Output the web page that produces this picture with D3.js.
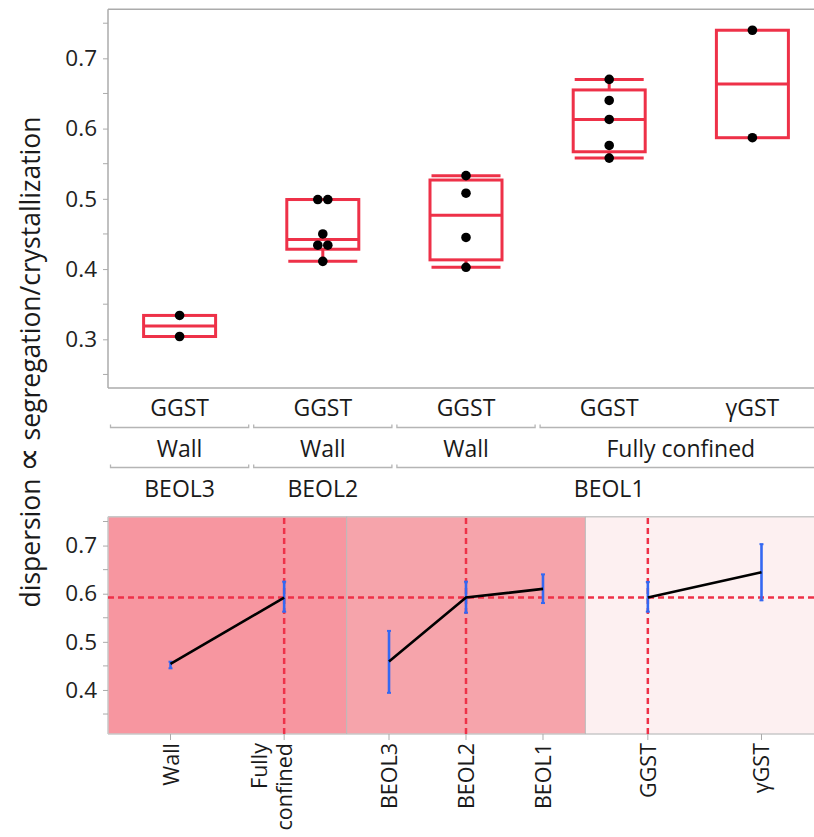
<!DOCTYPE html>
<html><head><meta charset="utf-8">
<script src="https://cdn.jsdelivr.net/npm/d3@7"></script>
<style>
html,body{margin:0;padding:0;background:#fff;}
svg{display:block;font-family:"Open Sans","Noto Sans",sans-serif;}
</style></head>
<body>
<svg id="chart" width="814" height="837"></svg>
<script>
// ---------- DATA ----------
const boxMaterial = ["GGST","GGST","GGST","GGST","γGST"];
const boxConfinement = ["Wall","Wall","Wall","Fully confined","Fully confined"];
const boxBeol = ["BEOL3","BEOL2","BEOL1","BEOL1","BEOL1"];
const boxPoints = [
  [0.334, 0.304],
  [0.499, 0.499, 0.450, 0.434, 0.434, 0.411],
  [0.533, 0.508, 0.445, 0.4025],
  [0.670, 0.640, 0.613, 0.576, 0.558],
  [0.740, 0.587]
];
const topTicks = [0.3, 0.4, 0.5, 0.6, 0.7];
const topMinor = [0.25,0.35,0.45,0.55,0.65,0.75];

const confLevels = ["Wall","Fully confined"];
const confMean = [0.454, 0.592];
const confLo = [0.445, 0.5626];
const confHi = [0.4587, 0.625];

const beolLevels = ["BEOL3","BEOL2","BEOL1"];
const beolMean = [0.459, 0.592, 0.610];
const beolLo = [0.394, 0.5605, 0.5806];
const beolHi = [0.5227, 0.625, 0.6402];

const matLevels = ["GGST","γGST"];
const matMean = [0.592, 0.6445];
const matLo = [0.5626, 0.5862];
const matHi = [0.6245, 0.703];

const profRef = 0.592;
const profCurrent = ["Fully confined","BEOL2","GGST"];
const botTicks = [0.4, 0.5, 0.6, 0.7];
const botMinor = [0.35,0.45,0.55,0.65,0.75];

const yTitleParts = ["dispersion ", "∝", " segregation/crystallization"];

// ---------- STYLE ----------
const RED = "#EE3148", BLUE = "#3468F2", GRID = "#ABABAB";
const panelFill = ["#F796A0","#F6A4AB","#FDF0F1"];

const svg = d3.select("#chart");
const L = 108, PW = 716;

// ---------- TOP: box plot ----------
const yT = d3.scaleLinear().domain([0.2307, 0.7698]).range([388, 9.3]);
const xT = d3.scaleBand().domain(d3.range(boxPoints.length)).range([L, L+PW]);
const topG = svg.append("g");

// frame
topG.append("line").attr("x1",L).attr("x2",L+PW).attr("y1",9.3).attr("y2",9.3).attr("stroke",GRID).attr("stroke-width",1.5);
topG.append("line").attr("x1",L).attr("x2",L+PW).attr("y1",388).attr("y2",388).attr("stroke",GRID).attr("stroke-width",1.5);
topG.append("line").attr("x1",L).attr("x2",L).attr("y1",9.3).attr("y2",388).attr("stroke",GRID).attr("stroke-width",1.5);

// y axis
const axT = topG.append("g").attr("transform",`translate(${L},0)`)
  .call(d3.axisLeft(yT).tickValues(topTicks).tickSize(5).tickPadding(6).tickFormat(d3.format(".1f")));
axT.select(".domain").remove();
axT.selectAll("line").attr("stroke",GRID);
axT.selectAll("text").attr("font-size",22.5).attr("fill","#222").attr("font-family","Open Sans");
topG.append("g").selectAll("line").data(topMinor).join("line")
  .attr("x1",L-5).attr("x2",L).attr("y1",d=>yT(d)).attr("y2",d=>yT(d)).attr("stroke",GRID);

// quantile (p(n+1) method)
function q6(arr, p){
  const s = arr.slice().sort((a,b)=>a-b), n=s.length;
  const h = p*(n+1);
  if (h<=1) return s[0];
  if (h>=n) return s[n-1];
  const lo = Math.floor(h);
  return s[lo-1] + (h-lo)*(s[lo]-s[lo-1]);
}
const bw = 72, cw = 69;
boxPoints.forEach((pts,i)=>{
  const cx = xT(i) + xT.bandwidth()/2;
  const q1=q6(pts,0.25), med=q6(pts,0.5), q3=q6(pts,0.75);
  const iqr=q3-q1;
  const wLo = d3.min(pts.filter(v=>v>=q1-1.5*iqr));
  const wHi = d3.max(pts.filter(v=>v<=q3+1.5*iqr));
  const g = topG.append("g");
  if (pts.length>2){
    g.append("line").attr("x1",cx).attr("x2",cx).attr("y1",yT(q3)).attr("y2",yT(wHi)).attr("stroke",RED).attr("stroke-width",3);
    g.append("line").attr("x1",cx).attr("x2",cx).attr("y1",yT(q1)).attr("y2",yT(wLo)).attr("stroke",RED).attr("stroke-width",3);
    g.append("line").attr("x1",cx-cw/2).attr("x2",cx+cw/2).attr("y1",yT(wHi)).attr("y2",yT(wHi)).attr("stroke",RED).attr("stroke-width",3);
    g.append("line").attr("x1",cx-cw/2).attr("x2",cx+cw/2).attr("y1",yT(wLo)).attr("y2",yT(wLo)).attr("stroke",RED).attr("stroke-width",3);
  }
  g.append("rect").attr("x",cx-bw/2).attr("width",bw).attr("y",yT(q3)).attr("height",yT(q1)-yT(q3))
    .attr("fill","none").attr("stroke",RED).attr("stroke-width",3);
  g.append("line").attr("x1",cx-bw/2).attr("x2",cx+bw/2).attr("y1",yT(med)).attr("y2",yT(med)).attr("stroke",RED).attr("stroke-width",3);
  // points with tie spreading
  const counts = d3.rollup(pts, v=>v.length, d=>d);
  const seen = new Map();
  pts.forEach(v=>{
    const n = counts.get(v), k = seen.get(v)||0; seen.set(v,k+1);
    const dx = (k-(n-1)/2)*10;
    g.append("circle").attr("cx",cx+dx).attr("cy",yT(v)).attr("r",4.8).attr("fill","#000");
  });
});

// nested categorical x labels
const rowY = [407, 448, 488], sepY = [427.5, 467.5];
const lab = topG.append("g").attr("font-size",23).attr("fill","#1a1a1a").attr("text-anchor","middle").attr("dominant-baseline","central");
boxMaterial.forEach((m,i)=>{
  lab.append("text").attr("x",xT(i)+xT.bandwidth()/2).attr("y",rowY[0]).text(m);
});
function groups(keys){
  const out=[]; keys.forEach((k,i)=>{
    if(out.length && out[out.length-1].key===k) out[out.length-1].end=i;
    else out.push({key:k,start:i,end:i});
  }); return out;
}
const g1 = groups(boxBeol.map((b,i)=>b+"|"+boxConfinement[i])).map(g=>({...g,label:g.key.split("|")[1]}));
const g2 = groups(boxBeol).map(g=>({...g,label:g.key}));
[g1,g2].forEach((gs,r)=>{
  gs.forEach(g=>{
    const x0 = xT(g.start)+2.5, x1 = xT(g.end)+xT.bandwidth()-2.5;
    topG.append("path").attr("d",`M${x0},${sepY[r]-3}V${sepY[r]}H${x1}V${sepY[r]-3}`)
      .attr("fill","none").attr("stroke","#B5B5B5").attr("stroke-width",1.3);
    lab.append("text").attr("x",(xT(g.start)+xT(g.end)+xT.bandwidth())/2).attr("y",rowY[r+1]).text(g.label);
  });
});

// ---------- BOTTOM: profiler ----------
const yB = d3.scaleLinear().domain([0.3085, 0.760]).range([734, 516.7]);
const bot = svg.append("g");
const panelW = PW/3;
const panels = [
  {levels:confLevels, mean:confMean, lo:confLo, hi:confHi},
  {levels:beolLevels, mean:beolMean, lo:beolLo, hi:beolHi},
  {levels:matLevels, mean:matMean, lo:matLo, hi:matHi}
];
panels.forEach((p,i)=>{
  const x0 = L + i*panelW;
  bot.append("rect").attr("x",x0).attr("y",516.7).attr("width",panelW).attr("height",734-516.7).attr("fill",panelFill[i]);
});
// frame
bot.append("line").attr("x1",L).attr("x2",L+PW).attr("y1",516.7).attr("y2",516.7).attr("stroke","#C8C8C8").attr("stroke-width",1.5);
bot.append("line").attr("x1",L).attr("x2",L+PW).attr("y1",734).attr("y2",734).attr("stroke","#C8C8C8").attr("stroke-width",1.5);
bot.append("line").attr("x1",L).attr("x2",L).attr("y1",516.7).attr("y2",734).attr("stroke","#C8C8C8").attr("stroke-width",1.5);
[1,2].forEach(i=>{
  bot.append("line").attr("x1",L+i*panelW).attr("x2",L+i*panelW).attr("y1",516.7).attr("y2",734).attr("stroke","#B8B8B8").attr("stroke-width",1);
});
// y axis
const axB = bot.append("g").attr("transform",`translate(${L},0)`)
  .call(d3.axisLeft(yB).tickValues(botTicks).tickSize(5).tickPadding(6).tickFormat(d3.format(".1f")));
axB.select(".domain").remove();
axB.selectAll("line").attr("stroke",GRID);
axB.selectAll("text").attr("font-size",22.5).attr("fill","#222").attr("font-family","Open Sans");
bot.append("g").selectAll("line").data(botMinor).join("line")
  .attr("x1",L-5).attr("x2",L).attr("y1",d=>yB(d)).attr("y2",d=>yB(d)).attr("stroke",GRID);

// reference horizontal dashed
bot.append("line").attr("x1",L).attr("x2",L+PW).attr("y1",yB(profRef)).attr("y2",yB(profRef))
  .attr("stroke",RED).attr("stroke-width",2.5).attr("stroke-dasharray","6,4");

panels.forEach((p,i)=>{
  const x0 = L + i*panelW;
  const xs = d3.scalePoint().domain(p.levels).range([x0, x0+panelW]).padding(0.55);
  const g = bot.append("g");
  // current setting vertical dashed
  g.append("line").attr("x1",xs(profCurrent[i])).attr("x2",xs(profCurrent[i])).attr("y1",518).attr("y2",734)
    .attr("stroke",RED).attr("stroke-width",2.5).attr("stroke-dasharray","6,4");
  // error bars
  p.levels.forEach((lv,j)=>{
    const x = xs(lv);
    g.append("line").attr("x1",x).attr("x2",x).attr("y1",yB(p.lo[j])).attr("y2",yB(p.hi[j])).attr("stroke",BLUE).attr("stroke-width",2.6);
    [p.lo[j],p.hi[j]].forEach(v=>{
      g.append("line").attr("x1",x-2).attr("x2",x+2).attr("y1",yB(v)).attr("y2",yB(v)).attr("stroke",BLUE).attr("stroke-width",2);
    });
  });
  // mean line
  g.append("path").datum(p.levels.map((lv,j)=>[xs(lv), yB(p.mean[j])]))
    .attr("d",d3.line()).attr("fill","none").attr("stroke","#000").attr("stroke-width",2.6);
  // x ticks and labels
  p.levels.forEach(lv=>{
    const x = xs(lv);
    g.append("line").attr("x1",x).attr("x2",x).attr("y1",734).attr("y2",740).attr("stroke",GRID);
    const words = lv==="Fully confined" ? ["Fully","confined"] : [lv];
    const t = g.append("text").attr("transform",`translate(${x},743) rotate(-90)`)
      .attr("text-anchor","end").attr("font-size",21.5).attr("fill","#1a1a1a");
    words.forEach((w,k)=>{
      t.append("tspan").attr("x",0).attr("y",8 - (words.length-1-k)*25).text(w);
    });
  });
});

// y title
const yt = svg.append("text").attr("transform","translate(40,362) rotate(-90)")
  .attr("text-anchor","middle").attr("font-size",26.5).attr("fill","#1a1a1a").attr("xml:space","preserve");
yt.append("tspan").text(yTitleParts[0]);
yt.append("tspan").attr("font-family","DejaVu Sans").attr("font-size",34).text(yTitleParts[1]);
yt.append("tspan").text(yTitleParts[2]);
</script>
</body></html>
